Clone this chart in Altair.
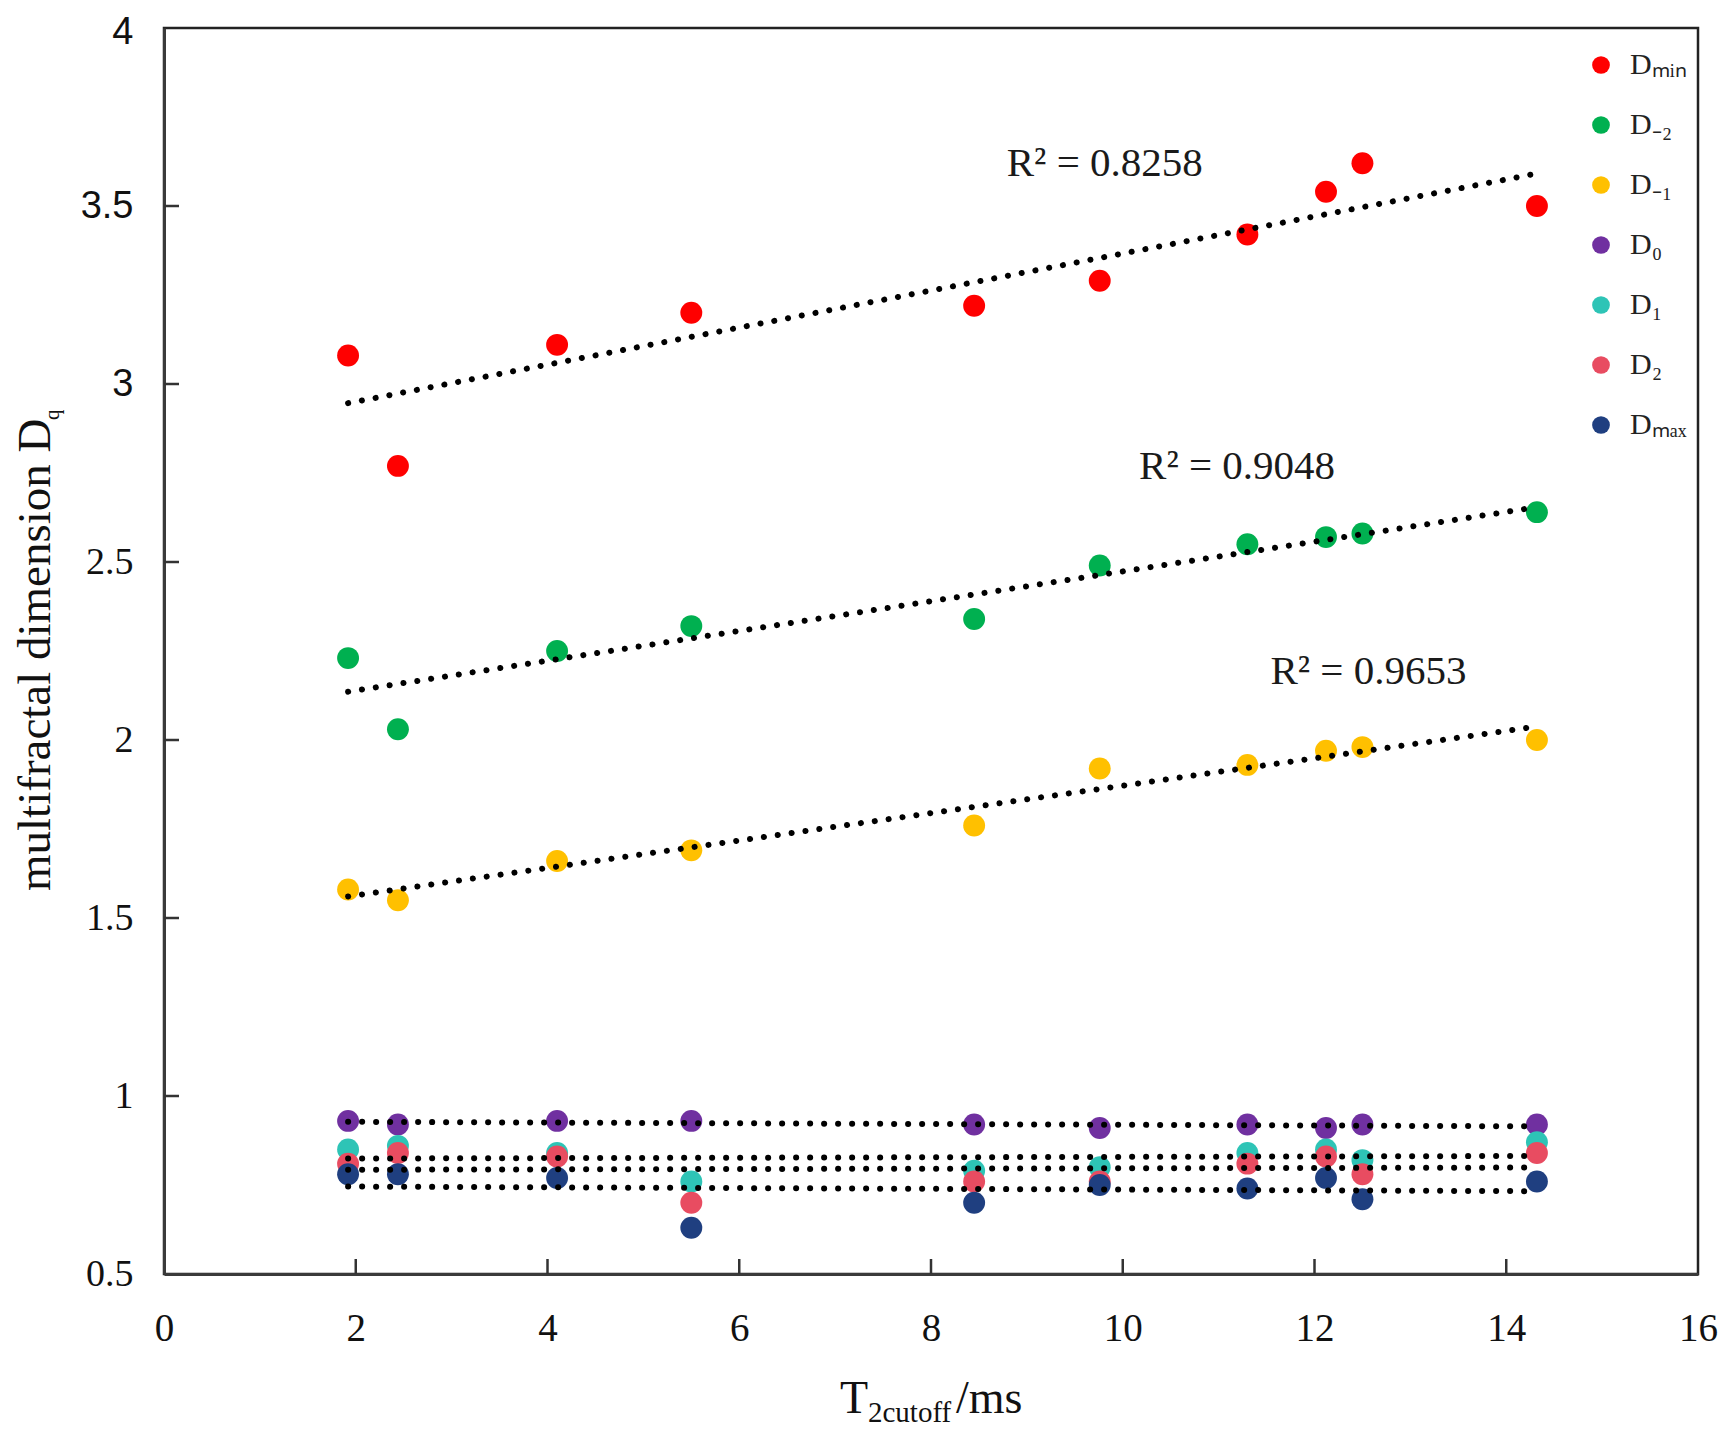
import altair as alt
import pandas as pd

# ---------------- data ----------------
x_vals = [1.92, 2.44, 4.10, 5.50, 8.45, 9.76, 11.30, 12.12, 12.50, 14.32]

series_names = ["Dₘᵢₙ", "D₋₂", "D₋₁", "D₀", "D₁", "D₂", "Dₘₐₓ"]
series_colors = ["#FF0000", "#00B050", "#FFC000", "#7030A0", "#2EC4B6", "#E84C61", "#1F3F80"]

d_min = [3.08, 2.77, 3.11, 3.20, 3.22, 3.29, 3.42, 3.54, 3.62, 3.50]
d_m2 = [2.23, 2.03, 2.25, 2.32, 2.34, 2.49, 2.55, 2.57, 2.58, 2.64]
d_m1 = [1.58, 1.55, 1.66, 1.69, 1.76, 1.92, 1.93, 1.97, 1.98, 2.00]
d_0 = [0.93, 0.92, 0.93, 0.93, 0.92, 0.91, 0.92, 0.91, 0.92, 0.92]
d_1 = [0.85, 0.86, 0.84, 0.76, 0.79, 0.80, 0.84, 0.85, 0.82, 0.87]
d_2 = [0.81, 0.84, 0.83, 0.70, 0.76, 0.76, 0.81, 0.83, 0.78, 0.84]
d_max = [0.78, 0.78, 0.77, 0.63, 0.70, 0.75, 0.74, 0.77, 0.71, 0.76]
series_values = [d_min, d_m2, d_m1, d_0, d_1, d_2, d_max]

r2_labels = ["R² = 0.8258", "R² = 0.9048", "R² = 0.9653"]
r2_x = [8.79, 10.17, 11.54]
r2_y = [3.585, 2.734, 2.156]

x_tick_values = [0, 2, 4, 6, 8, 10, 12, 14, 16]
y_tick_values = [0.5, 1, 1.5, 2, 2.5, 3, 3.5, 4]
x_inner_ticks = [2, 4, 6, 8, 10, 12, 14]
y_inner_ticks = [1, 1.5, 2, 2.5, 3, 3.5]

y_title_main = "multifractal dimension D"
y_title_sub = "q"
x_title_main = "T"
x_title_sub = "2cutoff"
x_title_unit = "/ms"

# ---------------- tables ----------------
rows = []
for name, vals in zip(series_names, series_values):
    for xv, yv in zip(x_vals, vals):
        rows.append({"T2": xv, "Dq": yv, "series": name})
df = pd.DataFrame(rows)
ann = pd.DataFrame({"T2": r2_x, "Dq": r2_y, "label": r2_labels})

W, H = 1534, 1246
PAD_TOP = 20
SERIF = "Liberation Serif"
SANS = "Liberation Sans"

xs = alt.Scale(domain=[0, 16], nice=False, zero=False)
ys = alt.Scale(domain=[0.5, 4], nice=False, zero=False)

x_axis = alt.Axis(
    values=x_tick_values, title=None, grid=False, ticks=False, tickSize=0,
    labelFont=SERIF, labelFontSize=39, labelColor="#111111", labelPadding=35,
    labelFlush=False, domainColor="#3a3a3a", domainWidth=3,
    labelExpr="'' + datum.value",
)
y_axis = alt.Axis(
    values=y_tick_values, title=None, grid=False, ticks=False, tickSize=0,
    labelFont={"condition": {"test": "datum.value >= 3", "value": SANS}, "value": SERIF},
    labelOffset={"condition": {"test": "datum.value >= 4", "value": 4}, "value": 0},
    labelFontSize=38, labelColor="#111111", labelPadding=31, labelFlush=False,
    domainColor="#3a3a3a", domainWidth=3, labelExpr="'' + datum.value",
)
x_enc = alt.X("T2:Q", scale=xs, axis=x_axis)
y_enc = alt.Y("Dq:Q", scale=ys, axis=y_axis)

base = alt.Chart(df)

points = base.mark_circle(size=480, opacity=1).encode(
    x=x_enc,
    y=y_enc,
    color=alt.Color(
        "series:N",
        sort=series_names,
        scale=alt.Scale(domain=series_names, range=series_colors),
        legend=alt.Legend(
            orient="none", legendX=1422, legendY=22, title=None,
            symbolType="circle", symbolSize=314, symbolStrokeWidth=0, symbolOpacity=1,
            labelFont=SERIF, labelFontSize=30, labelColor="#222222",
            labelOffset=14, rowPadding=30, padding=0,
        ),
    ),
)

trend = base.transform_regression("T2", "Dq", groupby=["series"]).mark_line(
    color="black", strokeWidth=6, strokeDash=[0.1, 13.9], strokeCap="round"
).encode(x=x_enc, y=y_enc, detail="series:N")

r2_text = alt.Chart(ann).mark_text(
    font=SERIF, fontSize=41, align="left", baseline="alphabetic", color="#1a1a1a"
).encode(x=x_enc, y=y_enc, text="label:N")

xticks = alt.Chart(pd.DataFrame({"T2": x_inner_ticks})).mark_rule(
    color="#333333", strokeWidth=2.5
).encode(x=x_enc, y=alt.value(H), y2=alt.value(H - 15))

yticks = alt.Chart(pd.DataFrame({"Dq": y_inner_ticks})).mark_rule(
    color="#333333", strokeWidth=2.5
).encode(y=y_enc, x=alt.value(0), x2=alt.value(15))

one = pd.DataFrame({"a": [0]})
ytitle = alt.Chart(one).mark_text(
    font=SERIF, fontSize=47, angle=270, align="left", baseline="alphabetic", color="#111111",
    text=y_title_main,
).encode(x=alt.value(-114), y=alt.value(863))
ytitle_q = alt.Chart(one).mark_text(
    font=SERIF, fontSize=21, angle=270, align="left", baseline="alphabetic", color="#111111",
    text=y_title_sub,
).encode(x=alt.value(-105), y=alt.value(392))

xtitle_t = alt.Chart(one).mark_text(
    font=SERIF, fontSize=46, align="left", baseline="alphabetic", color="#111111",
    text=x_title_main,
).encode(x=alt.value(676), y=alt.value(1385))
xtitle_sub = alt.Chart(one).mark_text(
    font=SERIF, fontSize=29, align="left", baseline="alphabetic", color="#111111",
    text=x_title_sub,
).encode(x=alt.value(704), y=alt.value(1394))
xtitle_unit = alt.Chart(one).mark_text(
    font=SERIF, fontSize=46, align="left", baseline="alphabetic", color="#111111",
    text=x_title_unit,
).encode(x=alt.value(792), y=alt.value(1385))

chart = alt.layer(
    points, trend, r2_text, xticks, yticks,
    ytitle, ytitle_q, xtitle_t, xtitle_sub, xtitle_unit,
).properties(
    width=W, height=H,
    autosize=alt.AutoSizeParams(type="none"),
    padding={"left": 156, "top": PAD_TOP, "right": 20, "bottom": 153},
    background="white",
).configure_view(stroke="#222222", strokeWidth=2.5)

chart.save("out.html", embed_options={"renderer": "svg", "actions": False})
